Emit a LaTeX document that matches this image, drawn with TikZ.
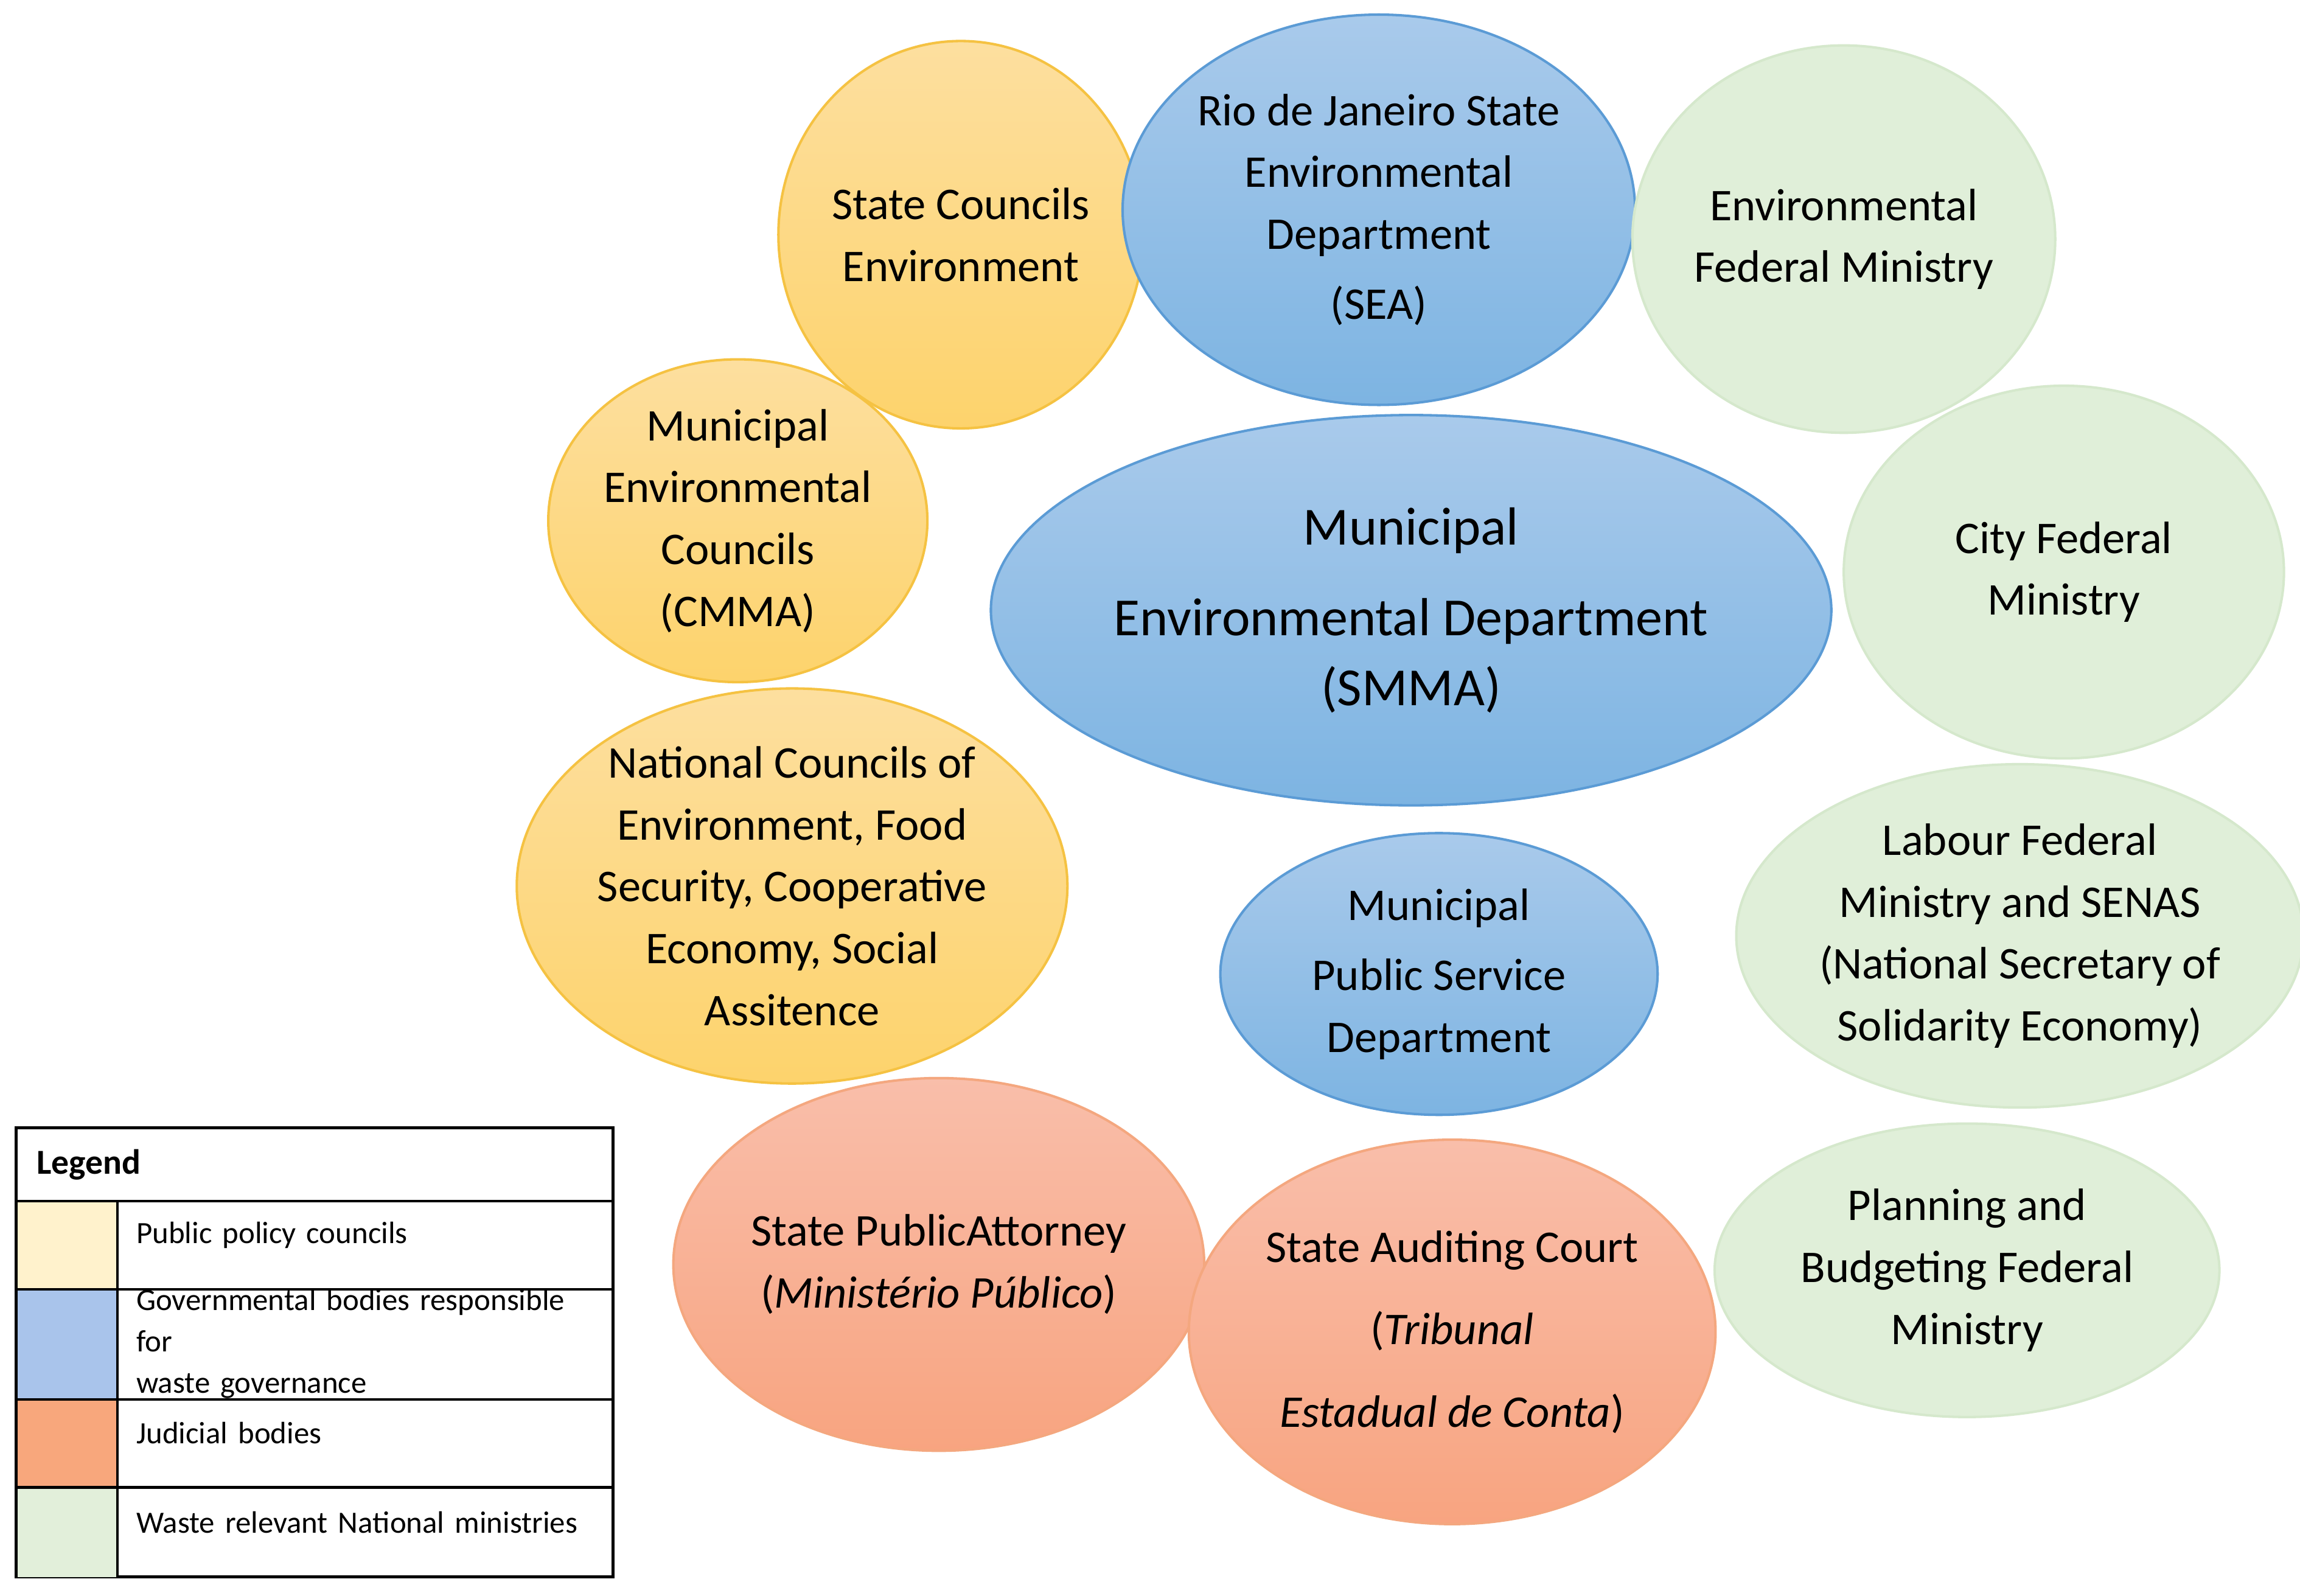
\documentclass[tikz,border=0pt]{standalone}
\usepackage{fontspec}
\setmainfont{Carlito}
\usetikzlibrary{shapes.geometric}
\definecolor{ylT}{HTML}{FDDF9F}\definecolor{ylB}{HTML}{FDD36C}\definecolor{ylD}{HTML}{F5C242}
\definecolor{blT}{HTML}{A9CAEB}\definecolor{blB}{HTML}{7DB4E2}\definecolor{blD}{HTML}{5B9BD5}
\definecolor{grF}{HTML}{E0EFD9}\definecolor{grD}{HTML}{D5E8CC}
\definecolor{rdT}{HTML}{F9BEAA}\definecolor{rdB}{HTML}{F8A480}\definecolor{rdD}{HTML}{F4A77F}
\definecolor{lgY}{HTML}{FFF2CC}\definecolor{lgB}{HTML}{A9C4EB}\definecolor{lgR}{HTML}{F8A77C}\definecolor{lgG}{HTML}{E2EFDA}
\tikzset{
 el/.style={ellipse,align=center,line width=1.2pt,inner sep=0pt,font=\fontsize{22}{30}\selectfont},
 yl/.style={el,draw=ylD,top color=ylT,bottom color=ylB},
 bl/.style={el,draw=blD,top color=blT,bottom color=blB},
 gr/.style={el,draw=grD,fill=grF},
 rd/.style={el,draw=rdD,top color=rdT,bottom color=rdB},
 sz/.style n args={2}{minimum width=#1*0.05cm,minimum height=#2*0.05cm},
 lg/.style={font=\fontsize{15}{20}\selectfont,align=left,anchor=west,text width=7.8cm}
}
\begin{document}
\begin{tikzpicture}[x=0.025cm,y=-0.025cm]
\useasboundingbox[fill=white] (0,0) rectangle (1568,1088);
\node[yl,sz={118}{132}] (sc) at (655,160) {State Councils\\Environment};
\node[bl,sz={158}{133}] (sea) at (940,143) {Rio de Janeiro State\\Environmental\\Department\\[4pt](SEA)};
\node[gr,sz={143}{132}] (efm) at (1257,163) {Environmental\\Federal Ministry};
\node[yl,sz={129}{110}] (cmma) at (503,355) {Municipal\\Environmental\\Councils\\(CMMA)};
\node[bl,sz={245}{133},font=\fontsize{26}{34}\selectfont] (smma) at (962,416) {Municipal\\[10pt]Environmental Department\\(SMMA)};
\node[gr,sz={150}{127}] (cfm) at (1407,390) {City Federal\\Ministry};
\node[yl,sz={166}{130}] (nc) at (540,604) {National Councils of\\Environment, Food\\Security, Cooperative\\Economy, Social\\Assitence};
\node[bl,sz={149}{96}] (mps) at (981,664) {Municipal\\[4pt]Public Service\\Department};
\node[gr,sz={174}{117}] (lab) at (1377,638) {Labour Federal\\Ministry and SENAS\\(National Secretary of\\Solidarity Economy)};
\node[rd,sz={175}{127}] (spa) at (640,862) {State PublicAttorney\\(\textit{Ministério Público})};
\node[rd,sz={177}{131}] (sac) at (990,908) {State Auditing Court\\[10pt](\textit{Tribunal}\\[10pt]\textit{Estadual de Conta})};
\node[gr,sz={172}{100}] (pbf) at (1341,866) {Planning and\\Budgeting Federal\\Ministry};
% legend
\draw[line width=1.5pt] (11,769) rectangle (418,1075);
\foreach \a/\b/\c in {819/879/lgY,879/954/lgB,954/1014/lgR,1014/1075/lgG}{
 \fill[\c] (12,\a) rectangle (80,\b);
 \draw[line width=1.2pt] (11,\a) -- (418,\a);
}
\draw[line width=1.2pt] (80,819) -- (80,1075);
\node[anchor=west,font=\bfseries\fontsize{17}{20}\selectfont] (lh) at (20,794) {Legend};
\node[lg] (l1) at (88,842) {Public policy councils};
\node[lg] (l2) at (88,916) {Governmental bodies responsible for\\waste governance};
\node[lg] (l3) at (88,977) {Judicial bodies};
\node[lg] (l4) at (88,1038) {Waste relevant National ministries};
\end{tikzpicture}
\end{document}
